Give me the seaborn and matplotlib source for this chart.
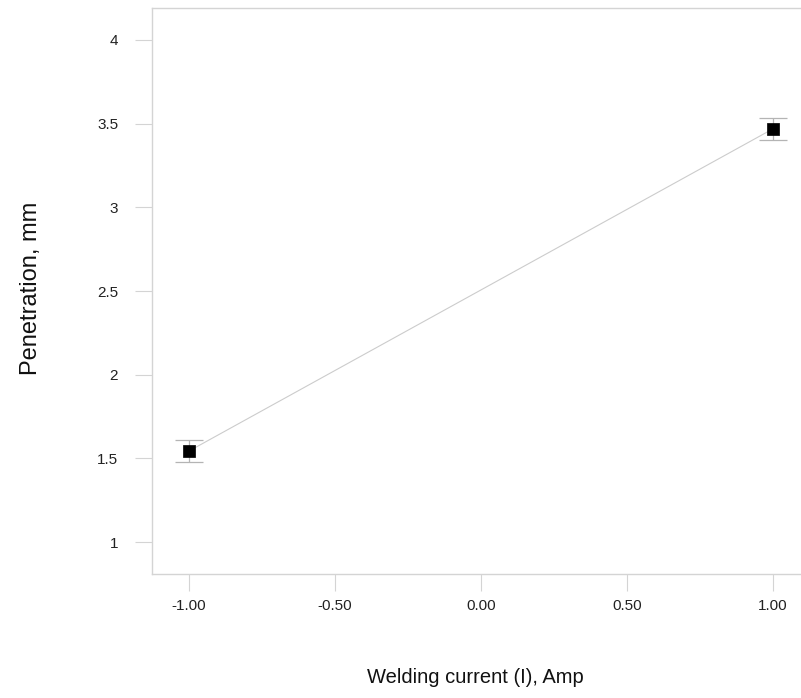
import matplotlib
matplotlib.use("Agg")
import matplotlib.pyplot as plt
import seaborn as sns
import pandas as pd

# Main-effect means for welding current (coded levels)
current_levels = [-1.0, 1.0]
penetration_mean = [1.544, 3.469]
penetration_err = [0.063, 0.066]

x_ticks = [-1.0, -0.5, 0.0, 0.5, 1.0]
x_tick_labels = ["-1.00", "-0.50", "0.00", "0.50", "1.00"]
y_ticks = [1, 1.5, 2, 2.5, 3, 3.5, 4]
y_tick_labels = ["1", "1.5", "2", "2.5", "3", "3.5", "4"]

df = pd.DataFrame({"I": current_levels, "P": penetration_mean, "err": penetration_err})

sns.set_theme(style="white")
plt.rcParams["font.family"] = ["Liberation Sans", "DejaVu Sans"]

fig = plt.figure(figsize=(8.01, 6.98), dpi=100)
ax = fig.add_axes([152 / 801, 1 - 574 / 698, 1 - 152 / 801, (574 - 8) / 698])

sns.lineplot(data=df, x="I", y="P", ax=ax, color="#cccccc", linewidth=0.8, zorder=1)
ax.errorbar(df["I"], df["P"], yerr=df["err"], fmt="none", ecolor="#b4b4b4",
            elinewidth=0.9, capsize=10, capthick=0.9, zorder=2)
sns.scatterplot(data=df, x="I", y="P", ax=ax, marker="s", s=80, color="black",
                edgecolor="black", linewidth=0.5, zorder=3)

ax.set_xlim(-1.127, 1.096)
ax.set_ylim(0.809, 4.191)
ax.set_xticks(x_ticks)
ax.set_xticklabels(x_tick_labels)
ax.set_yticks(y_ticks)
ax.set_yticklabels(y_tick_labels)

for side in ["left", "bottom", "top"]:
    ax.spines[side].set_color("#d4d4d4")
    ax.spines[side].set_linewidth(1.0)
ax.spines["right"].set_visible(False)

ax.tick_params(axis="both", which="major", direction="out", length=12, width=0.8,
               color="#d4d4d4", labelsize=11, labelcolor="#222222",
               bottom=True, left=True)
ax.tick_params(axis="x", pad=6)
ax.tick_params(axis="y", pad=12.3)

ax.set_xlabel("Welding current (I), Amp", fontsize=14.5, color="#111111")
ax.set_ylabel("Penetration, mm", fontsize=17, color="#111111")
ax.xaxis.set_label_coords(0.499, -0.166)
ax.yaxis.set_label_coords(-0.1695, 0.505)

fig.savefig("out.png", dpi=100)
